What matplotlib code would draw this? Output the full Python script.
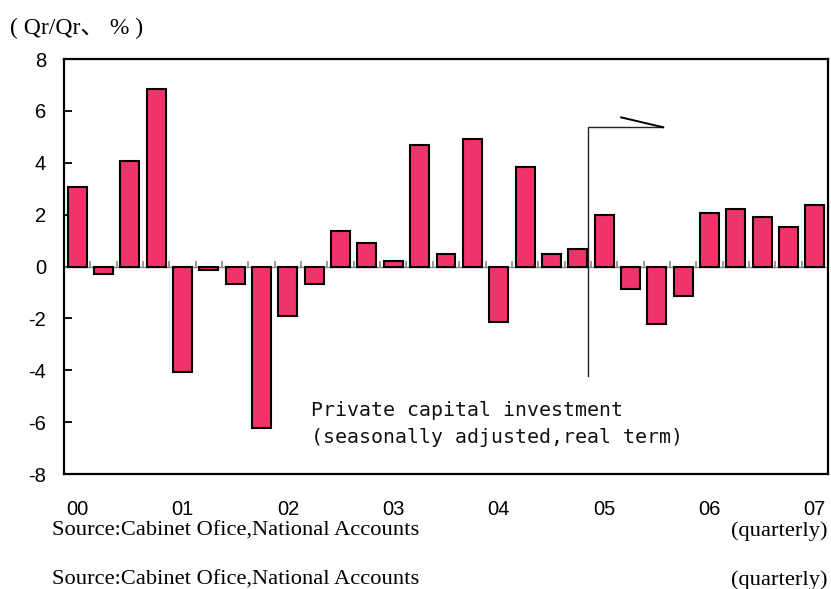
''' quarterly change of private capital investment, bar chart '''
import numpy as np
import matplotlib.pyplot as plt

plt.rcParams['axes.unicode_minus'] = False

# qr/qr change, %, 2000 Q1 .. 2007 Q1
values = [3.07, -0.30, 4.07, 6.84, -4.08, -0.15, -0.68, -6.23, -1.92, -0.68,
          1.38, 0.92, 0.23, 4.69, 0.47, 4.92, -2.15, 3.85, 0.47, 0.69,
          2.00, -0.85, -2.23, -1.15, 2.08, 2.23, 1.92, 1.54, 2.38]
year_labels = ['00', '01', '02', '03', '04', '05', '06', '07']
yticks = [-8, -6, -4, -2, 0, 2, 4, 6, 8]

x = np.arange(len(values))

fig = plt.figure(figsize=(8.31, 5.89), dpi=100)
ax = fig.add_axes([0.077, 0.1952, 0.9194, 0.7046])

ax.bar(x, values, width=0.72, color='#EE3468', edgecolor='black',
       linewidth=1.5, zorder=3)

# zero line with small gray marks between quarters
ax.axhline(0, color='#888888', linewidth=1.0, zorder=2)
ax.vlines(x[:-1] + 0.5, 0, 0.2, color='#888888', linewidth=1.2, zorder=2)

ax.set_xlim(-0.5, len(values) - 0.5)
ax.set_ylim(-8, 8)
ax.set_yticks(yticks)
ax.set_yticklabels([str(v) for v in yticks], fontsize=14.5,
                   family='Liberation Sans')
ax.set_xticks(x[::4])
ax.set_xticklabels(year_labels, fontsize=14.5, family='Liberation Sans')
ax.tick_params(axis='y', direction='in', length=6, width=1.3, pad=13)
ax.tick_params(axis='x', length=0, pad=19)
for sp in ax.spines.values():
    sp.set_linewidth(1.6)

# annotation bracket
ax.plot([19.4, 19.4, 22.24], [-4.24, 5.37, 5.37], color='#222222',
        linewidth=1.0, zorder=4)
ax.plot([22.24, 20.65], [5.37, 5.75], color='black', linewidth=1.4,
        zorder=4)

ax.text(8.88, -5.54, 'Private capital investment', fontsize=14.3,
        family='DejaVu Sans Mono', va='center', ha='left', color='#111111')
ax.text(8.88, -6.59, '(seasonally adjusted,real term)', fontsize=14.3,
        family='DejaVu Sans Mono', va='center', ha='left', color='#111111')

fig.text(10 / 831, 1 - 28 / 589, '( Qr/Qr、 % )', fontsize=17,
         family=['Liberation Serif', 'Noto Sans CJK JP'], va='center')

for yy in (531, 580):
    fig.text(52 / 831, 1 - yy / 589, 'Source:Cabinet Ofice,National Accounts',
             fontsize=16.2, family='Liberation Serif', va='center')
    fig.text(828 / 831, 1 - yy / 589, '(quarterly)', fontsize=16.2,
             family='Liberation Serif', va='center', ha='right')

plt.savefig('out.png', dpi=100)
